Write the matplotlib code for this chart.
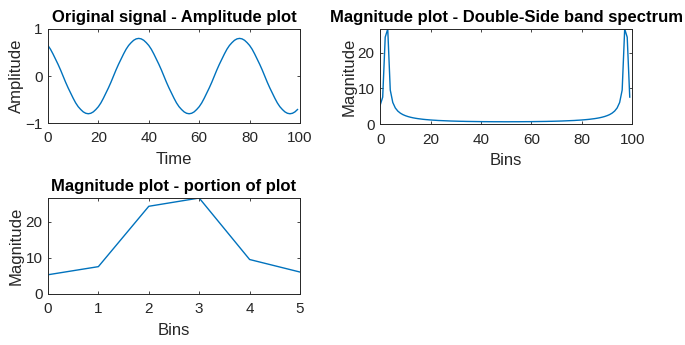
import matplotlib
matplotlib.use("Agg")
import matplotlib.pyplot as plt

plt.rcParams['font.family'] = ['Liberation Sans', 'DejaVu Sans']

# Original signal (samples 0..99)
time = list(range(100))
amplitude = [
    0.65, 0.57, 0.47, 0.36, 0.25, 0.13, 0.00, -0.13, -0.25, -0.36,
    -0.47, -0.57, -0.65, -0.71, -0.76, -0.79, -0.80, -0.79, -0.76, -0.71,
    -0.65, -0.57, -0.47, -0.36, -0.25, -0.13, 0.00, 0.13, 0.25, 0.36,
    0.47, 0.57, 0.65, 0.71, 0.76, 0.79, 0.80, 0.79, 0.76, 0.71,
    0.65, 0.57, 0.47, 0.36, 0.25, 0.13, 0.00, -0.13, -0.25, -0.36,
    -0.47, -0.57, -0.65, -0.71, -0.76, -0.79, -0.80, -0.79, -0.76, -0.71,
    -0.65, -0.57, -0.47, -0.36, -0.25, -0.13, 0.00, 0.13, 0.25, 0.36,
    0.47, 0.57, 0.65, 0.71, 0.76, 0.79, 0.80, 0.79, 0.76, 0.71,
    0.65, 0.57, 0.47, 0.36, 0.25, 0.13, 0.00, -0.13, -0.25, -0.36,
    -0.47, -0.57, -0.65, -0.71, -0.76, -0.79, -0.80, -0.79, -0.76, -0.71,
]

# Double-sided magnitude spectrum (bins 0..99)
bins = list(range(100))
magnitude = [
    5.32, 7.57, 24.31, 26.60, 9.55, 6.07, 4.54, 3.66, 3.09, 2.68,
    2.38, 2.14, 1.95, 1.79, 1.66, 1.55, 1.46, 1.37, 1.30, 1.24,
    1.18, 1.13, 1.09, 1.04, 1.01, 0.98, 0.95, 0.92, 0.89, 0.87,
    0.85, 0.83, 0.81, 0.80, 0.78, 0.77, 0.76, 0.75, 0.74, 0.73,
    0.72, 0.71, 0.71, 0.70, 0.70, 0.69, 0.69, 0.69, 0.69, 0.68,
    0.68, 0.68, 0.69, 0.69, 0.69, 0.69, 0.70, 0.70, 0.71, 0.71,
    0.72, 0.73, 0.74, 0.75, 0.76, 0.77, 0.78, 0.80, 0.81, 0.83,
    0.85, 0.87, 0.89, 0.92, 0.95, 0.98, 1.01, 1.04, 1.09, 1.13,
    1.18, 1.24, 1.30, 1.37, 1.46, 1.55, 1.66, 1.79, 1.95, 2.14,
    2.38, 2.68, 3.09, 3.66, 4.54, 6.07, 9.55, 26.60, 24.31, 7.57,
]

# Portion of spectrum
portion_bins = [0, 1, 2, 3, 4, 5]
portion_mag = [5.32, 7.57, 24.31, 26.60, 9.55, 6.07]

line_color = '#0072BD'
text_color = '#262626'

fig = plt.figure(figsize=(6.85, 3.45), dpi=100)
ax1 = fig.add_axes([0.070, 0.643, 0.368, 0.273])
ax2 = fig.add_axes([0.555, 0.640, 0.368, 0.276])
ax3 = fig.add_axes([0.070, 0.148, 0.368, 0.278])


def style(ax):
    ax.tick_params(direction='in', top=True, right=True, length=2.5, width=0.6,
                   labelsize=11, colors=text_color)
    ax.tick_params(axis='x', pad=6)
    ax.tick_params(axis='y', pad=4)
    for s in ax.spines.values():
        s.set_linewidth(0.7)
        s.set_color(text_color)


ax1.plot(time, amplitude, color=line_color, lw=1.0)
ax1.set_xlim(0, 100)
ax1.set_ylim(-1, 1)
ax1.set_xticks([0, 20, 40, 60, 80, 100])
ax1.set_yticks([-1, 0, 1])
ax1.set_title('Original signal - Amplitude plot', fontsize=12, fontweight='bold',
              color='black', pad=5)
ax1.set_xlabel('Time', fontsize=12, color=text_color, labelpad=5)
ax1.set_ylabel('Amplitude', fontsize=12, color=text_color, labelpad=1)
style(ax1)

ax2.plot(bins, magnitude, color=line_color, lw=1.0)
ax2.set_xlim(0, 100)
ax2.set_ylim(0, max(magnitude))
ax2.set_xticks([0, 20, 40, 60, 80, 100])
ax2.set_yticks([0, 10, 20])
ax2.set_title('Magnitude plot - Double-Side band spectrum', fontsize=12,
              fontweight='bold', color='black', pad=5)
ax2.set_xlabel('Bins', fontsize=12, color=text_color, labelpad=5)
ax2.set_ylabel('Magnitude', fontsize=12, color=text_color, labelpad=1)
style(ax2)

ax3.plot(portion_bins, portion_mag, color=line_color, lw=1.0)
ax3.set_xlim(0, 5)
ax3.set_ylim(0, max(portion_mag))
ax3.set_xticks([0, 1, 2, 3, 4, 5])
ax3.set_yticks([0, 10, 20])
ax3.set_title('Magnitude plot - portion of plot', fontsize=12, fontweight='bold',
              color='black', pad=5)
ax3.set_xlabel('Bins', fontsize=12, color=text_color, labelpad=5)
ax3.set_ylabel('Magnitude', fontsize=12, color=text_color, labelpad=1)
style(ax3)

fig.savefig('out.png', dpi=100)
